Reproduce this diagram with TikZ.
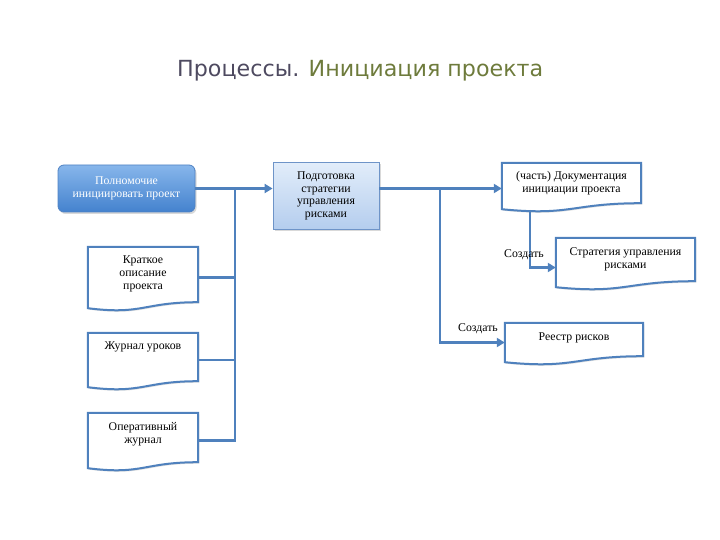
\documentclass[tikz,border=0pt]{standalone}
\usepackage{fontspec}
\setmainfont{Liberation Serif}
\newfontfamily\titlefont{DejaVu Sans}
\usetikzlibrary{arrows.meta,shadows,calc}
\definecolor{connblue}{RGB}{79,129,189}
\definecolor{bAtop}{RGB}{135,182,235}
\definecolor{bAbot}{RGB}{68,130,206}
\definecolor{bAline}{RGB}{80,130,195}
\definecolor{bBtop}{RGB}{226,237,250}
\definecolor{bBbot}{RGB}{180,205,238}
\definecolor{bBline}{RGB}{110,148,200}
\definecolor{ttlA}{RGB}{78,74,96}
\definecolor{ttlB}{RGB}{110,123,60}
\tikzset{
  conn/.style={draw=connblue, line width=2.3pt},
  arr/.style={conn, -{Triangle[length=8pt,width=9pt]}},
  txt/.style={inner sep=0pt, align=center, font=\fontsize{11.8}{13}\selectfont},
  docline/.style={draw=connblue, line width=2pt, fill=white,
    drop shadow={opacity=0.25, shadow xshift=1.2pt, shadow yshift=-1.5pt}},
  boxA/.style={draw=bAline, line width=0.8pt, rounded corners=6pt, top color=bAtop, bottom color=bAbot,
    text=white, align=center, font=\fontsize{11.8}{12.5}\selectfont,
    drop shadow={opacity=0.3, shadow xshift=1.5pt, shadow yshift=-2pt}},
  boxB/.style={draw=bBline, line width=0.8pt, top color=bBtop, bottom color=bBbot,
    align=center, font=\fontsize{11.8}{12.5}\selectfont,
    drop shadow={opacity=0.3, shadow xshift=1.5pt, shadow yshift=-2pt}},
}
% name, cx, cy, w, h, text offset from top, text
\newcommand\mkdoc[7]{%
  \node[inner sep=0pt, minimum width=#4pt, minimum height=#5pt] (#1) at (#2,#3) {};
  \path[docline] (#1.north west) -- (#1.north east) -- ([yshift=6pt]#1.south east)
    .. controls ([yshift=6pt]#1.south) and ([yshift=-7pt]#1.south) .. (#1.south west) -- cycle;
  \node[txt, anchor=north, yshift=-#6pt] (#1t) at (#1.north) {#7};
}
\begin{document}
\begin{tikzpicture}[x=1pt,y=-1pt]
\useasboundingbox (0,0) rectangle (720,540);

\node[font=\titlefont\fontsize{22.2}{26}\selectfont, anchor=base west, inner sep=0pt] (title) at (177,77)
  {\textcolor{ttlA}{Процессы.} \textcolor{ttlB}{Инициация проекта}};

\coordinate (jA) at (235,188.5);
\coordinate (jB) at (440,188.5);

\node[boxA, minimum width=137pt, minimum height=47pt, inner sep=2pt] (b1) at (126.5,188.5)
  {Полномочие\\инициировать проект};
\node[boxB, minimum width=106pt, minimum height=67pt, inner sep=2pt] (b2) at (326,196)
  {Подготовка\\стратегии\\управления\\рисками};

\mkdoc{d3}{571.5}{186}{139}{46}{8.5}{(часть) Документация\\инициации проекта}
\mkdoc{ds}{625.5}{262.5}{139}{49}{10}{Стратегия управления\\рисками}
\mkdoc{dr}{574}{342.5}{138}{39}{10}{Реестр рисков}
\mkdoc{dk}{143}{277.5}{110}{61}{9}{Краткое\\описание\\проекта}
\mkdoc{dz}{143}{360}{110}{54}{8.5}{Журнал уроков}
\mkdoc{do}{143}{440.5}{110}{55}{9.5}{Оперативный\\журнал}

\coordinate (jC) at (530,210);

\draw[arr] (b1.east) -- (b1.east -| b2.west);
\draw[conn] (jA) |- (do.east);
\draw[conn] (dk.east) -- (dk.east -| jA);
\draw[conn] (dz.east) -- (dz.east -| jA);
\draw[arr] (b1.east -| b2.east) -- (b1.east -| d3.west);
\draw[arr] (jB) |- (dr.west);
\draw[arr] (jC) |- ([yshift=-5pt]ds.west);

\node[txt, anchor=base] (l1) at (478,331) {Создать};
\node[txt, anchor=base] (l2) at (524,258) {Создать};
\end{tikzpicture}
\end{document}
